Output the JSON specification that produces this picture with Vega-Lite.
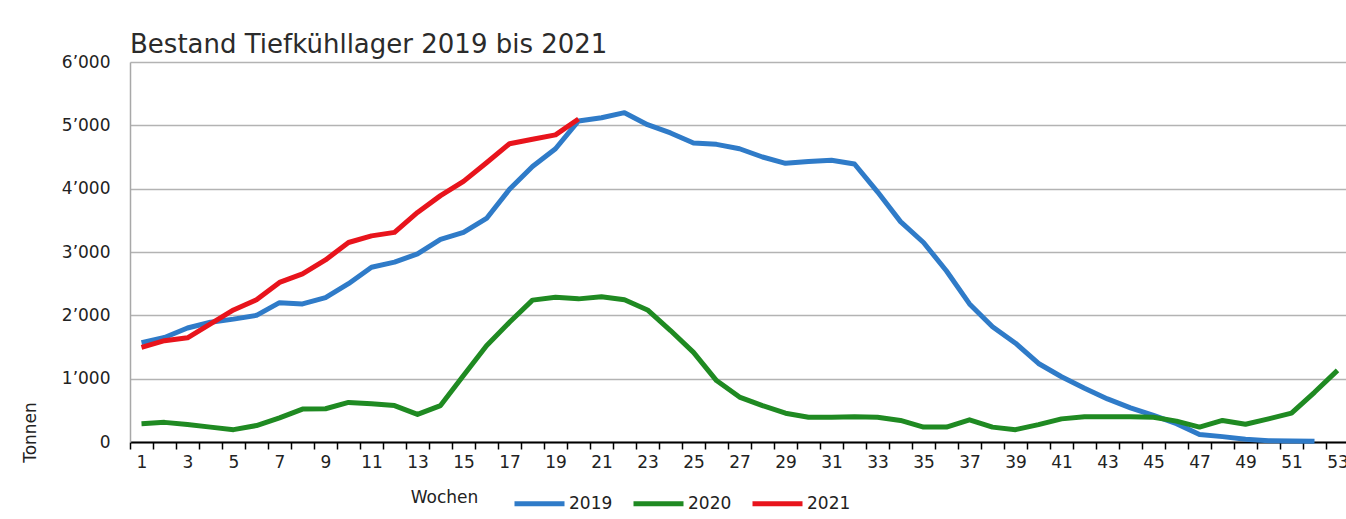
{
"$schema": "https://vega.github.io/schema/vega-lite/v6.json",
"width": 1219,
"height": 380,
"autosize": {"type": "none"},
"padding": {"left": 130, "top": 62, "right": 0, "bottom": 77},
"background": "white",
"title": {"text": "Bestand Tiefkühllager 2019 bis 2021", "anchor": "start", "frame": "group", "font": "DejaVu Sans", "fontSize": 26, "fontWeight": "normal", "color": "#2b2b2b", "offset": 9, "baseline": "alphabetic", "dy": 35},
"config": {"view": {"stroke": null}},
"data": {"values": [
{"week":1,"year":"2019","value":1570},{"week":2,"year":"2019","value":1650},{"week":3,"year":"2019","value":1800},{"week":4,"year":"2019","value":1890},{"week":5,"year":"2019","value":1940},{"week":6,"year":"2019","value":2000},{"week":7,"year":"2019","value":2200},{"week":8,"year":"2019","value":2180},{"week":9,"year":"2019","value":2280},{"week":10,"year":"2019","value":2500},{"week":11,"year":"2019","value":2760},{"week":12,"year":"2019","value":2840},{"week":13,"year":"2019","value":2970},{"week":14,"year":"2019","value":3200},{"week":15,"year":"2019","value":3310},{"week":16,"year":"2019","value":3530},{"week":17,"year":"2019","value":3990},{"week":18,"year":"2019","value":4350},{"week":19,"year":"2019","value":4630},{"week":20,"year":"2019","value":5070},{"week":21,"year":"2019","value":5120},{"week":22,"year":"2019","value":5200},{"week":23,"year":"2019","value":5010},{"week":24,"year":"2019","value":4880},{"week":25,"year":"2019","value":4720},{"week":26,"year":"2019","value":4700},{"week":27,"year":"2019","value":4630},{"week":28,"year":"2019","value":4500},{"week":29,"year":"2019","value":4400},{"week":30,"year":"2019","value":4430},{"week":31,"year":"2019","value":4450},{"week":32,"year":"2019","value":4390},{"week":33,"year":"2019","value":3950},{"week":34,"year":"2019","value":3480},{"week":35,"year":"2019","value":3150},{"week":36,"year":"2019","value":2700},{"week":37,"year":"2019","value":2180},{"week":38,"year":"2019","value":1820},{"week":39,"year":"2019","value":1560},{"week":40,"year":"2019","value":1240},{"week":41,"year":"2019","value":1030},{"week":42,"year":"2019","value":850},{"week":43,"year":"2019","value":680},{"week":44,"year":"2019","value":540},{"week":45,"year":"2019","value":420},{"week":46,"year":"2019","value":290},{"week":47,"year":"2019","value":120},{"week":48,"year":"2019","value":85},{"week":49,"year":"2019","value":45},{"week":50,"year":"2019","value":20},{"week":51,"year":"2019","value":15},{"week":52,"year":"2019","value":10},
{"week":1,"year":"2020","value":290},{"week":2,"year":"2020","value":310},{"week":3,"year":"2020","value":275},{"week":4,"year":"2020","value":235},{"week":5,"year":"2020","value":195},{"week":6,"year":"2020","value":260},{"week":7,"year":"2020","value":380},{"week":8,"year":"2020","value":520},{"week":9,"year":"2020","value":525},{"week":10,"year":"2020","value":625},{"week":11,"year":"2020","value":605},{"week":12,"year":"2020","value":575},{"week":13,"year":"2020","value":435},{"week":14,"year":"2020","value":575},{"week":15,"year":"2020","value":1050},{"week":16,"year":"2020","value":1520},{"week":17,"year":"2020","value":1890},{"week":18,"year":"2020","value":2240},{"week":19,"year":"2020","value":2285},{"week":20,"year":"2020","value":2260},{"week":21,"year":"2020","value":2295},{"week":22,"year":"2020","value":2245},{"week":23,"year":"2020","value":2085},{"week":24,"year":"2020","value":1760},{"week":25,"year":"2020","value":1415},{"week":26,"year":"2020","value":970},{"week":27,"year":"2020","value":710},{"week":28,"year":"2020","value":575},{"week":29,"year":"2020","value":455},{"week":30,"year":"2020","value":390},{"week":31,"year":"2020","value":390},{"week":32,"year":"2020","value":400},{"week":33,"year":"2020","value":390},{"week":34,"year":"2020","value":340},{"week":35,"year":"2020","value":235},{"week":36,"year":"2020","value":235},{"week":37,"year":"2020","value":350},{"week":38,"year":"2020","value":235},{"week":39,"year":"2020","value":195},{"week":40,"year":"2020","value":275},{"week":41,"year":"2020","value":365},{"week":42,"year":"2020","value":400},{"week":43,"year":"2020","value":400},{"week":44,"year":"2020","value":400},{"week":45,"year":"2020","value":390},{"week":46,"year":"2020","value":330},{"week":47,"year":"2020","value":235},{"week":48,"year":"2020","value":340},{"week":49,"year":"2020","value":280},{"week":50,"year":"2020","value":365},{"week":51,"year":"2020","value":455},{"week":52,"year":"2020","value":785},{"week":53,"year":"2020","value":1130},
{"week":1,"year":"2021","value":1495},{"week":2,"year":"2021","value":1600},{"week":3,"year":"2021","value":1645},{"week":4,"year":"2021","value":1865},{"week":5,"year":"2021","value":2085},{"week":6,"year":"2021","value":2245},{"week":7,"year":"2021","value":2520},{"week":8,"year":"2021","value":2655},{"week":9,"year":"2021","value":2875},{"week":10,"year":"2021","value":3150},{"week":11,"year":"2021","value":3255},{"week":12,"year":"2021","value":3310},{"week":13,"year":"2021","value":3625},{"week":14,"year":"2021","value":3890},{"week":15,"year":"2021","value":4115},{"week":16,"year":"2021","value":4410},{"week":17,"year":"2021","value":4710},{"week":18,"year":"2021","value":4780},{"week":19,"year":"2021","value":4850},{"week":20,"year":"2021","value":5100}
]},
"mark": {"type": "line", "strokeWidth": 5, "strokeJoin": "round", "strokeCap": "butt"},
"encoding": {
"x": {"field": "week", "type": "ordinal",
 "scale": {"type": "band", "paddingInner": 0, "paddingOuter": 0},
 "axis": {"title": "Wochen", "titleX": 314, "titleY": 55, "titleBaseline": "middle", "titleAlign": "center", "titleFont": "DejaVu Sans", "titleFontSize": 17, "titleFontWeight": "normal", "titleColor": "#222",
  "labelAngle": 0, "labelExpr": "datum.value % 2 == 1 ? datum.label : ''", "labelOverlap": false, "labelBound": false,
  "tickBand": "extent", "tickColor": "#000", "tickWidth": 1.5, "tickSize": 7, "domainColor": "#000", "domainWidth": 2,
  "labelPadding": 5, "labelFont": "DejaVu Sans", "labelFontSize": 17, "labelColor": "#222", "grid": false}},
"y": {"field": "value", "type": "quantitative",
 "scale": {"domain": [0, 6000]},
 "axis": {"values": [0,1000,2000,3000,4000,5000,6000], "title": "Tonnen", "titleX": -100, "titleY": 370, "titleAngle": -90, "titleAlign": "center", "titleBaseline": "middle", "titleFont": "DejaVu Sans", "titleFontSize": 17, "titleFontWeight": "normal", "titleColor": "#222",
  "labelExpr": "replace(format(datum.value, ','), ',', '’')", "ticks": false, "tickSize": 0, "labelPadding": 20,
  "labelFont": "DejaVu Sans", "labelFontSize": 17, "labelColor": "#222",
  "domainColor": "#a8a8a8", "domainWidth": 1.5, "gridColor": "#b3b3b3", "gridWidth": 1.5}},
"color": {"field": "year", "type": "nominal",
 "scale": {"domain": ["2019","2020","2021"], "range": ["#2f7bc8","#1f8a22","#e8141c"]},
 "legend": {"title": null, "orient": "none", "legendX": 382, "legendY": 414, "direction": "horizontal",
  "symbolType": "stroke", "symbolSize": 2500, "symbolStrokeWidth": 5,
  "labelFont": "DejaVu Sans", "labelFontSize": 17, "labelColor": "#222", "labelOffset": 2, "columnPadding": 10}}
}
}
